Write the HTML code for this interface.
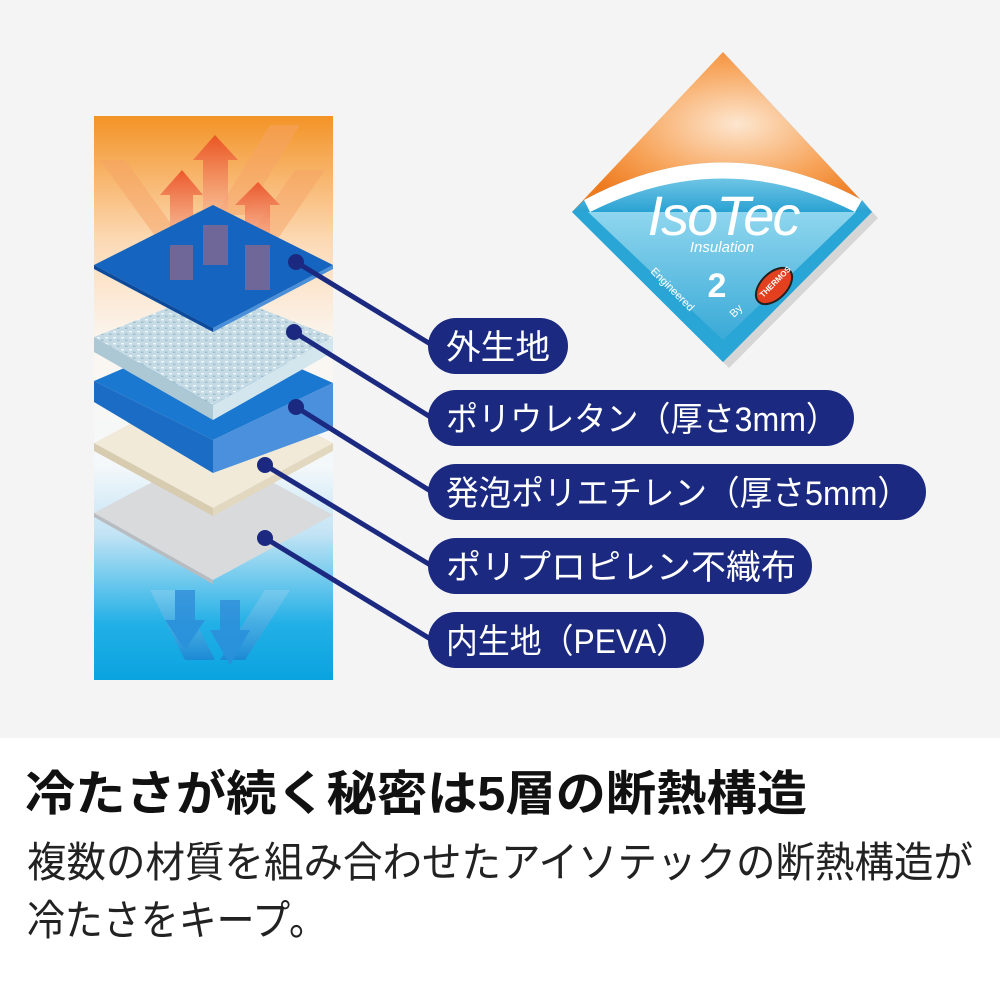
<!DOCTYPE html>
<html><head><meta charset="utf-8"><style>
html,body{margin:0;padding:0;background:#fff;}
svg{display:block;}
</style></head><body>
<svg width="1000" height="1000" viewBox="0 0 1000 1000" xmlns="http://www.w3.org/2000/svg">
<defs>
<linearGradient id="bg" x1="0" y1="0" x2="0" y2="1">
<stop offset="0" stop-color="#f39326"/><stop offset="0.22" stop-color="#fcd9b4"/>
<stop offset="0.4" stop-color="#fbf6f0"/><stop offset="0.62" stop-color="#f4f8fb"/>
<stop offset="0.74" stop-color="#c3e4f5"/><stop offset="0.9" stop-color="#22b0e6"/><stop offset="1" stop-color="#0aa3e0"/>
</linearGradient>
<radialGradient id="orn" cx="0.55" cy="0.45" r="0.6">
<stop offset="0" stop-color="#fde6cf"/><stop offset="0.6" stop-color="#f7a45a"/><stop offset="1" stop-color="#ee7a1e"/>
</radialGradient>
<linearGradient id="bl" x1="0" y1="0" x2="0" y2="1">
<stop offset="0" stop-color="#8fd6ee"/><stop offset="1" stop-color="#2aa2d3"/>
</linearGradient>
<linearGradient id="red" x1="0" y1="0" x2="0" y2="1">
<stop offset="0" stop-color="#e8421e"/><stop offset="1" stop-color="#f7b49a" stop-opacity="0.5"/>
</linearGradient>
<linearGradient id="blu" x1="0" y1="0" x2="0" y2="1">
<stop offset="0" stop-color="#9fd4ef" stop-opacity="0.5"/><stop offset="1" stop-color="#1f7fd0"/>
</linearGradient>
<pattern id="foam" width="8" height="6" patternUnits="userSpaceOnUse">
<rect width="8" height="6" fill="#c4dbe5"/>
<rect x="1" y="1" width="3" height="1.5" fill="#eef6f9"/>
<rect x="5" y="3.5" width="2.5" height="1.5" fill="#9fbccb"/>
</pattern>
</defs>
<rect width="1000" height="738" fill="#f4f4f4"/>
<rect y="738" width="1000" height="262" fill="#fff"/>
<rect x="94" y="116" width="239" height="564" fill="url(#bg)"/>
<g opacity="0.8">
<polygon points="100,160 125,160 190,250 165,250" fill="#f6a467" opacity="0.6"/>
<polygon points="270,125 300,125 245,215 215,215" fill="#f6a467" opacity="0.6"/>
<polygon points="295,170 325,170 270,250 240,250" fill="#f6a467" opacity="0.6"/>
<polygon points="203,190 203,160 193,160 215,135 238,160 228,160 228,225 203,225" fill="url(#red)"/>
<polygon points="170,220 170,195 160,195 182,170 203,195 193,195 193,255 170,255" fill="url(#red)"/>
<polygon points="245,225 245,205 235,205 258,182 280,205 270,205 270,260 245,260" fill="url(#red)"/>
</g>
<g opacity="0.75">
<polygon points="150,590 180,590 215,660 185,660" fill="url(#blu)"/>
<polygon points="265,590 290,590 245,660 220,660" fill="url(#blu)"/>
<polygon points="175,590 195,590 195,620 205,620 185,650 165,620 175,620" fill="#2f8ad8"/>
<polygon points="220,600 240,600 240,630 250,630 230,665 210,630 220,630" fill="#2f8ad8"/>
</g>
<polygon points="94,513 213,450 333,515 213,580" fill="#d8dadc"/>
<polygon points="94,513 213,580 213,584 94,517" fill="#b8bcc0"/>
<polygon points="94,443 213,380 333,443 213,508" fill="#f1ead8"/>
<polygon points="94,443 213,508 213,516 94,451" fill="#d7ccb0"/>
<polygon points="213,508 333,443 333,451 213,516" fill="#e2d8bf"/>
<polygon points="94,381 213,330 333,383 213,440" fill="#1a78d0"/>
<polygon points="94,381 213,440 213,473 94,402" fill="#1a6cc4"/>
<polygon points="213,440 333,383 333,429 213,473" fill="#4a90dc"/>
<polygon points="94,337 213,290 333,337 213,405" fill="url(#foam)"/>
<polygon points="94,337 213,405 213,420 94,352" fill="#adc8d5"/>
<polygon points="213,405 333,337 333,352 213,420" fill="#d3e5ed"/>
<polygon points="94,265 213,205 333,265 213,328" fill="#1565c0"/>
<polygon points="94,265 213,328 213,332 94,269" fill="#0d4a9c"/>
<polygon points="213,328 333,265 333,269 213,332" fill="#4a8fd8"/>
<g opacity="0.45">
<polygon points="203,225 228,225 228,265 203,265" fill="#e06a6a"/>
<polygon points="245,245 270,245 270,290 245,290" fill="#e06a6a"/>
<polygon points="170,245 193,245 193,280 170,280" fill="#e06a6a"/>
</g>
<g stroke="#1b2a80" stroke-width="5" fill="none">
<line x1="296" y1="262" x2="432" y2="345"/>
<line x1="294" y1="332" x2="432" y2="418"/>
<line x1="296" y1="407" x2="432" y2="492"/>
<line x1="265" y1="465" x2="432" y2="566"/>
<line x1="265" y1="538" x2="432" y2="640"/>
</g>
<g fill="#1b2a80">
<circle cx="296" cy="262" r="8"/><circle cx="294" cy="332" r="8"/><circle cx="296" cy="407" r="8"/>
<circle cx="265" cy="465" r="8"/><circle cx="265" cy="538" r="8"/>
</g>
<g fill="#1b2a80">
<rect x="428" y="318" width="140" height="56" rx="28"/>
<rect x="428" y="390" width="426" height="56" rx="28"/>
<rect x="428" y="464" width="498" height="56" rx="28"/>
<rect x="428" y="538" width="384" height="56" rx="28"/>
<rect x="428" y="612" width="276" height="56" rx="28"/>
</g>
<g fill="#fff" font-family="'Liberation Sans','Noto Sans CJK JP',sans-serif" font-size="34">
<text x="446" y="359" textLength="104" lengthAdjust="spacingAndGlyphs">外生地</text>
<text x="446" y="431" textLength="392" lengthAdjust="spacingAndGlyphs">ポリウレタン（厚さ3mm）</text>
<text x="446" y="505" textLength="464" lengthAdjust="spacingAndGlyphs">発泡ポリエチレン（厚さ5mm）</text>
<text x="446" y="579" textLength="350" lengthAdjust="spacingAndGlyphs">ポリプロピレン不織布</text>
<text x="446" y="653" textLength="242" lengthAdjust="spacingAndGlyphs">内生地（PEVA）</text>
</g>
<g>
<polygon points="572,212 723,362 872,212 723,52" fill="#000" opacity="0.12" transform="translate(6,6)"/>
<polygon points="572,212 723,52 872,212" fill="url(#orn)"/>
<polygon points="572,212 723,362 872,212" fill="url(#bl)"/>
<path d="M584,200 Q723,125 862,200 L872,212 L572,212 Z" fill="url(#bl)"/>
<path d="M584,200 Q723,125 862,200 L855,212 Q723,145 590,212 Z" fill="#fff"/>
<polygon points="572,212 723,362 872,212 856,212 723,340 588,212" fill="#2aa6d6"/>
<text x="723" y="235" text-anchor="middle" fill="#fff" font-family="'Liberation Sans',sans-serif" font-size="56" font-style="italic" letter-spacing="-2">IsoTec</text>
<text x="722" y="252" text-anchor="middle" fill="#fff" font-family="'Liberation Sans',sans-serif" font-size="15" font-style="italic">Insulation</text>
<text x="717" y="297" text-anchor="middle" fill="#fff" font-family="'Liberation Sans',sans-serif" font-size="34" font-weight="bold">2</text>
<text transform="translate(650,272) rotate(45)" fill="#fff" font-family="'Liberation Sans',sans-serif" font-size="11">Engineered</text>
<text transform="translate(734,318) rotate(-45)" fill="#fff" font-family="'Liberation Sans',sans-serif" font-size="11">By</text>
<ellipse cx="774" cy="286" rx="13" ry="22" transform="rotate(45 774 286)" fill="#e2401e" stroke="#222" stroke-width="2"/>
<text transform="translate(763,298) rotate(-45)" fill="#fff" font-family="'Liberation Sans',sans-serif" font-size="8" font-weight="bold">THERMOS</text>
</g>
<text x="25" y="810" font-family="'Liberation Sans','Noto Sans CJK JP',sans-serif" font-size="48" font-weight="bold" fill="#111" textLength="782" lengthAdjust="spacingAndGlyphs">冷たさが続く秘密は5層の断熱構造</text>
<text x="27" y="877" font-family="'Liberation Sans','Noto Sans CJK JP',sans-serif" font-size="42" fill="#222" textLength="946" lengthAdjust="spacingAndGlyphs">複数の材質を組み合わせたアイソテックの断熱構造が</text>
<text x="27" y="935" font-family="'Liberation Sans','Noto Sans CJK JP',sans-serif" font-size="42" fill="#222" textLength="300" lengthAdjust="spacingAndGlyphs">冷たさをキープ。</text>
</svg>
</body></html>
